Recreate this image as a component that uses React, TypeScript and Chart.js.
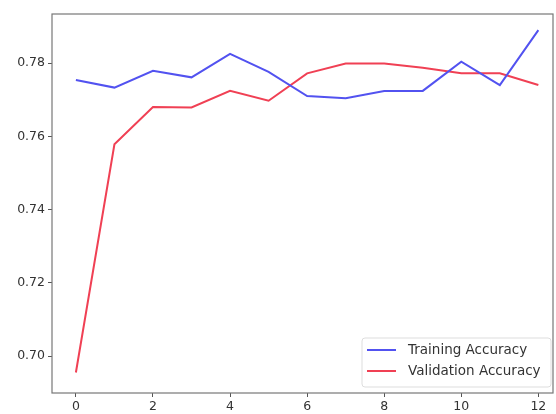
import React, { useEffect, useRef } from "react";
import { Chart, registerables } from "chart.js";

Chart.register(...registerables);

const epochs = [0, 1, 2, 3, 4, 5, 6, 7, 8, 9, 10, 11, 12];
const trainingAccuracy = [0.7754, 0.7733, 0.7779, 0.7761, 0.7825, 0.7776, 0.771, 0.7704, 0.7724, 0.7724, 0.7804, 0.774, 0.789];
const validationAccuracy = [0.6955, 0.7578, 0.768, 0.7679, 0.7724, 0.7697, 0.7772, 0.7799, 0.7799, 0.7787, 0.7772, 0.7772, 0.774];
const xTicks = [0, 2, 4, 6, 8, 10, 12];
const yTicks = [0.7, 0.72, 0.74, 0.76, 0.78];
const seriesLabels = ["Training Accuracy", "Validation Accuracy"];

const BLUE = "rgb(82,82,240)";
const RED = "rgb(240,64,84)";
const FONT = "DejaVu Sans";

const framePlugin = {
  id: "frameAndLegend",
  afterDatasetsDraw(chart: any) {
    const { ctx, chartArea } = chart;
    const { left, top, right, bottom } = chartArea;
    ctx.save();
    ctx.strokeStyle = "#777";
    ctx.lineWidth = 1.2;
    ctx.strokeRect(left, top, right - left, bottom - top);

    // legend (matplotlib style, lower right)
    const bw = 189;
    const bh = 49;
    const bx = right - 2 - bw;
    const by = bottom - 6 - bh;
    ctx.fillStyle = "rgba(255,255,255,0.85)";
    ctx.strokeStyle = "#ddd";
    ctx.lineWidth = 1;
    ctx.beginPath();
    (ctx as any).roundRect ? ctx.roundRect(bx, by, bw, bh, 3) : ctx.rect(bx, by, bw, bh);
    ctx.fill();
    ctx.stroke();
    const colors = [BLUE, RED];
    ctx.font = `13.5px "${FONT}"`;
    ctx.textBaseline = "middle";
    ctx.textAlign = "left";
    seriesLabels.forEach((lab, i) => {
      const y = by + 12 + i * 21;
      ctx.strokeStyle = colors[i];
      ctx.lineWidth = 2;
      ctx.beginPath();
      ctx.moveTo(bx + 5, y);
      ctx.lineTo(bx + 34, y);
      ctx.stroke();
      ctx.fillStyle = "#333";
      ctx.fillText(lab, bx + 46, y);
    });
    ctx.restore();
  },
};

export default function App() {
  const ref = useRef<HTMLCanvasElement | null>(null);
  useEffect(() => {
    if (!ref.current) return;
    const chart = new Chart(ref.current, {
      type: "line",
      data: {
        datasets: [
          {
            label: seriesLabels[0],
            data: epochs.map((e, i) => ({ x: e, y: trainingAccuracy[i] })),
            borderColor: BLUE,
            borderWidth: 2,
            pointRadius: 0,
            tension: 0,
          },
          {
            label: seriesLabels[1],
            data: epochs.map((e, i) => ({ x: e, y: validationAccuracy[i] })),
            borderColor: RED,
            borderWidth: 2,
            pointRadius: 0,
            tension: 0,
          },
        ],
      },
      options: {
        animation: false,
        responsive: false,
        maintainAspectRatio: false,
        layout: { padding: { top: 14, right: 3, left: 0, bottom: 0 } },
        plugins: { legend: { display: false }, tooltip: { enabled: false } },
        scales: {
          x: {
            type: "linear",
            min: -0.62,
            max: 12.38,
            afterBuildTicks: (s: any) => {
              s.ticks = xTicks.map((v) => ({ value: v }));
            },
            afterFit: (s: any) => {
              s.height = 21;
            },
            grid: { drawOnChartArea: false, tickLength: 4, color: "#555", tickWidth: 1 },
            border: { display: false },
            ticks: {
              color: "#333",
              font: { family: FONT, size: 12.5 },
              padding: 2,
              maxRotation: 0,
              autoSkip: false,
            },
          },
          y: {
            type: "linear",
            min: 0.6899,
            max: 0.7934,
            afterBuildTicks: (s: any) => {
              s.ticks = yTicks.map((v) => ({ value: v }));
            },
            afterFit: (s: any) => {
              s.width = 52;
            },
            grid: { drawOnChartArea: false, tickLength: 4, color: "#555", tickWidth: 1 },
            border: { display: false },
            ticks: {
              color: "#333",
              font: { family: FONT, size: 12.5 },
              padding: 3,
              autoSkip: false,
              callback: (v: any) => Number(v).toFixed(2),
            },
          },
        },
      },
      plugins: [framePlugin],
    });
    return () => chart.destroy();
  }, []);
  return (
    <div style={{ position: "fixed", left: 0, top: 0, width: 556, height: 414, background: "#fff" }}>
      <canvas ref={ref} width={556} height={414} style={{ display: "block", width: 556, height: 414 }} />
    </div>
  );
}
